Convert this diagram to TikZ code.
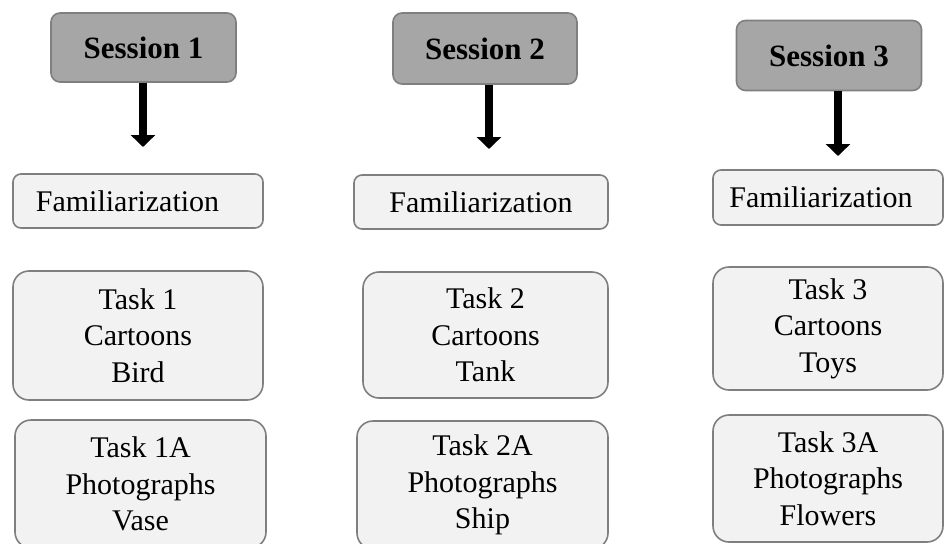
\documentclass[tikz,border=0pt]{standalone}
\usepackage{fontspec}
\setmainfont{Liberation Serif}
\usetikzlibrary{arrows.meta}

\definecolor{sessfill}{HTML}{A6A6A6}
\definecolor{boxfill}{HTML}{F2F2F2}
\definecolor{boxline}{HTML}{7F7F7F}

\tikzset{
    sessbox/.style={draw=boxline, fill=sessfill, line width=1.6pt, rounded corners=9pt,
        font=\bfseries\fontsize{31}{36}\selectfont, align=center},
    famibox/.style={draw=boxline, fill=boxfill, line width=1.6pt, rounded corners=8pt,
        font=\fontsize{30}{35}\selectfont, align=center},
    taskbox/.style={draw=boxline, fill=boxfill, line width=1.6pt, rounded corners=16pt,
        font=\fontsize{30}{36.5}\selectfont, align=center},
    downarrow/.style={line width=8.5pt, -{Triangle[width=24pt, length=12pt]}}
}

\begin{document}
\begin{tikzpicture}[x=1pt, y=-1pt]
        \useasboundingbox (0, 0) rectangle (944, 543);
        \clip (0, 0) rectangle (944, 543);

        % Sessions
        \node[sessbox, minimum width=185pt, minimum height=69pt] (s1) at (143.5, 47.5) {Session 1};
        \node[sessbox, minimum width=184pt, minimum height=71pt] (s2) at (485, 48.5) {Session 2};
        \node[sessbox, minimum width=185pt, minimum height=70pt] (s3) at (829, 55.5) {Session 3};

        % Arrows below the sessions
        \coordinate (a1) at (143, 147);
        \coordinate (a2) at (489, 149);
        \coordinate (a3) at (838, 156);
        \draw[downarrow] (s1.south -| a1) -- (a1);
        \draw[downarrow] (s2.south -| a2) -- (a2);
        \draw[downarrow] (s3.south -| a3) -- (a3);

        % Familiarization (text sits a little left in boxes 1 and 3)
        \node[famibox, minimum width=250pt, minimum height=54pt] (f1) at (138, 201) {Familiarization\hspace*{21pt}};
        \node[famibox, minimum width=254pt, minimum height=54pt] (f2) at (481, 202) {Familiarization};
        \node[famibox, minimum width=230pt, minimum height=55pt] (f3) at (828, 197.5) {Familiarization\hspace*{14pt}};

        % Cartoon tasks
        \node[taskbox, minimum width=250pt, minimum height=129pt] (t1) at (138, 335.5) {Task 1\\Cartoons\\Bird};
        \node[taskbox, minimum width=245pt, minimum height=126pt] (t2) at (485.5, 335) {Task 2\\Cartoons\\Tank};
        \node[taskbox, minimum width=230pt, minimum height=123pt] (t3) at (828, 328.5) {Task 3\\Cartoons\\Toys};

        % Photograph tasks
        \node[taskbox, minimum width=251pt, minimum height=128pt] (ta1) at (140.5, 484) {Task 1A\\Photographs\\Vase};
        \node[taskbox, minimum width=251pt, minimum height=128pt] (ta2) at (482.5, 485) {Task 2A\\Photographs\\Ship};
        \node[taskbox, minimum width=230pt, minimum height=127pt] (ta3) at (828, 478.5) {Task 3A\\Photographs\\Flowers};
    \end{tikzpicture}
\end{document}
